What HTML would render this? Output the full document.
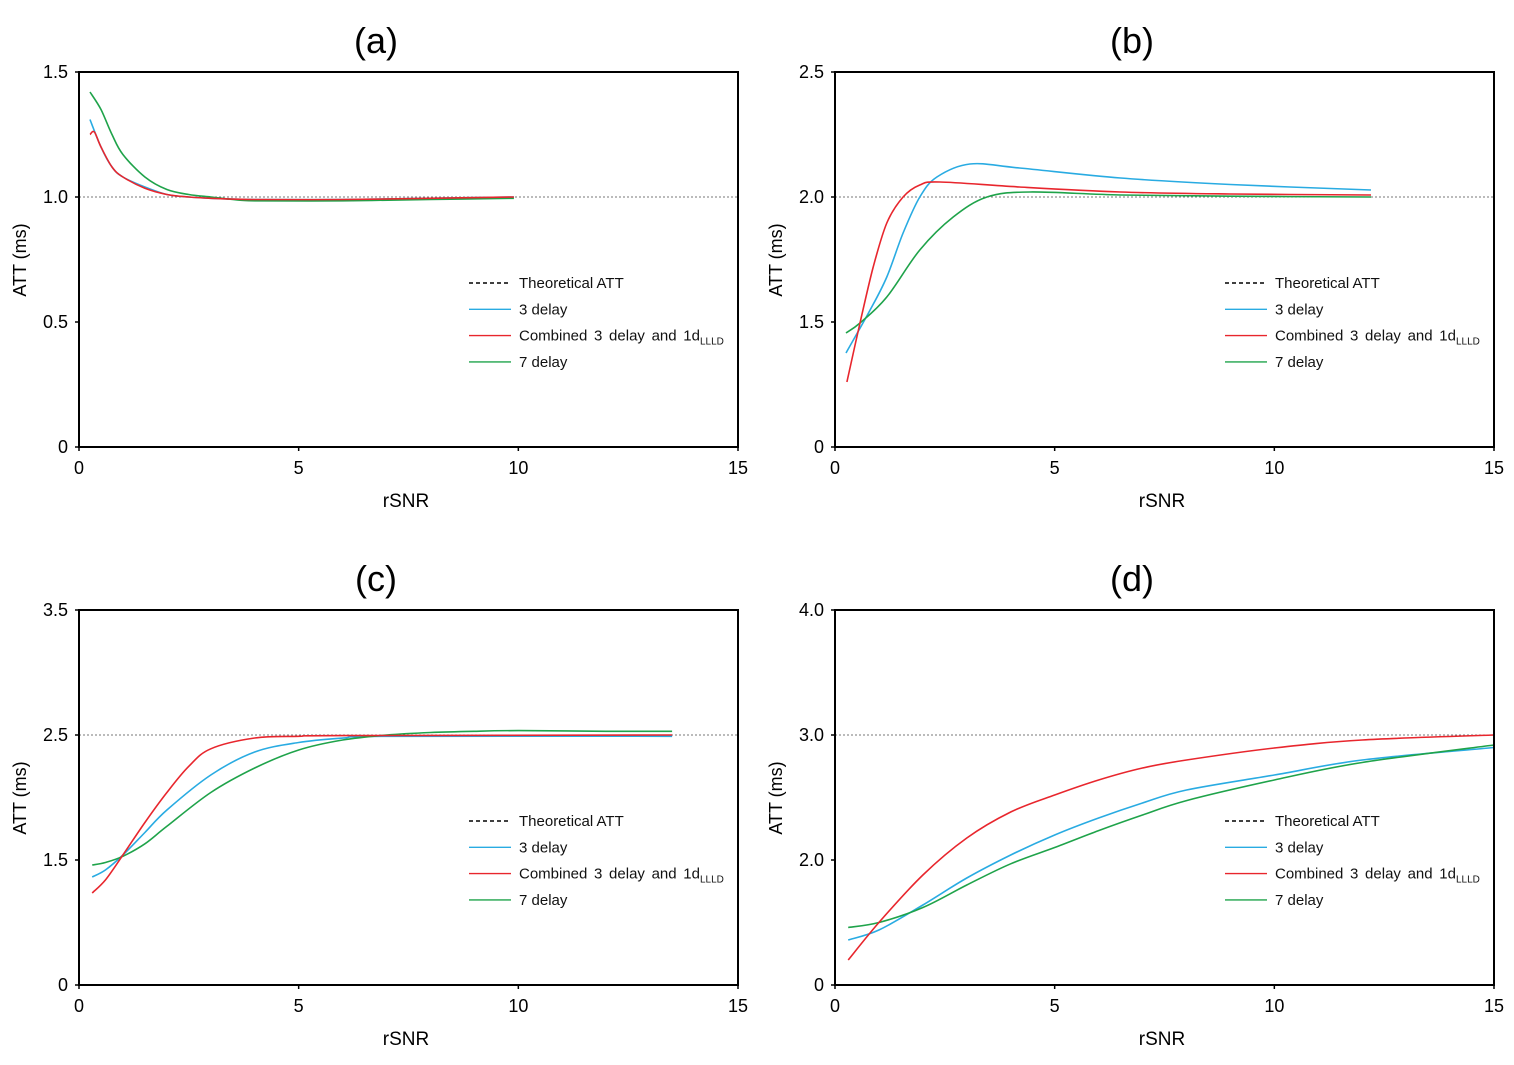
<!DOCTYPE html>
<html><head><meta charset="utf-8"><style>
html,body{margin:0;padding:0;background:#fff;}
svg{display:block;font-family:"Liberation Sans",Arial,sans-serif;}
</style></head><body>
<svg id="fig" width="1514" height="1065" viewBox="0 0 1514 1065" xmlns="http://www.w3.org/2000/svg"></svg>
<script>
// x tick labels shared by all panels
const xTicks = [0,5,10,15];
// Panel (a)
const aYTicks = [0,0.5,1.0,1.5];
const aYLabels = ["0","0.5","1.0","1.5"];
const aTheory = 1.0;
const aBlue = [[0.25,1.31],[0.5,1.2],[0.75,1.12],[1,1.08],[1.5,1.04],[2,1.01],[2.5,1.0],[3,0.995],[4,0.99],[6,0.99],[8,0.995],[9.9,1.0]];
const aRed = [[0.25,1.25],[0.35,1.26],[0.5,1.2],[0.75,1.12],[1,1.08],[1.5,1.035],[2,1.01],[2.5,1.0],[3,0.995],[4,0.99],[6,0.99],[8,0.995],[9.9,1.0]];
const aGreen = [[0.25,1.42],[0.5,1.35],[0.75,1.25],[1,1.17],[1.5,1.08],[2,1.03],[2.5,1.01],[3,1.0],[3.5,0.99],[4,0.985],[6,0.985],[8,0.99],[9.9,0.995]];
// Panel (b)
const bYTicks = [1.0,1.5,2.0,2.5];
const bYLabels = ["0","1.5","2.0","2.5"];
const bTheory = 2.0;
const bBlue = [[0.25,1.376],[0.8,1.548],[1.18,1.68],[1.55,1.856],[1.93,2.0],[2.32,2.08],[3.07,2.132],[4.2,2.116],[6.5,2.076],[9,2.05],[12.2,2.028]];
const bRed = [[0.27,1.26],[0.57,1.496],[0.87,1.72],[1.18,1.896],[1.55,2.0],[1.93,2.048],[2.39,2.06],[4.2,2.04],[6.5,2.02],[9,2.012],[12.2,2.008]];
const bGreen = [[0.25,1.456],[0.57,1.496],[1.18,1.6],[1.93,1.788],[2.69,1.92],[3.46,2.0],[4.44,2.02],[6.5,2.008],[9,2.003],[12.2,2.0]];
// Panel (c)
const cYTicks = [0.5,1.5,2.5,3.5];
const cYLabels = ["0","1.5","2.5","3.5"];
const cTheory = 2.5;
const cBlue = [[0.3,1.364],[0.6,1.42],[1,1.54],[1.5,1.72],[2,1.9],[3,2.18],[4,2.364],[5,2.44],[6,2.475],[7,2.49],[13.5,2.49]];
const cRed = [[0.3,1.236],[0.6,1.34],[1,1.54],[1.5,1.8],[2,2.04],[2.5,2.25],[3,2.39],[4,2.476],[5,2.49],[6,2.495],[13.5,2.5]];
const cGreen = [[0.3,1.46],[0.6,1.48],[1,1.53],[1.5,1.63],[2,1.77],[3,2.04],[4,2.236],[5,2.38],[6,2.46],[7,2.5],[8,2.52],[9,2.53],[10,2.535],[12,2.53],[13.5,2.53]];
// Panel (d)
const dYTicks = [1.0,2.0,3.0,4.0];
const dYLabels = ["0","2.0","3.0","4.0"];
const dTheory = 3.0;
const dBlue = [[0.3,1.36],[1,1.44],[2,1.64],[3,1.856],[4,2.04],[5,2.2],[6,2.336],[7,2.456],[8,2.56],[10,2.68],[12,2.8],[15,2.9]];
const dRed = [[0.3,1.2],[1,1.5],[2,1.88],[3,2.176],[4,2.384],[5,2.52],[6,2.64],[7,2.736],[8,2.8],[10,2.896],[12,2.96],[15,3.0]];
const dGreen = [[0.3,1.46],[1,1.5],[2,1.62],[3,1.8],[4,1.97],[5,2.1],[6,2.235],[7,2.36],[8,2.475],[10,2.64],[12,2.78],[15,2.92]];

const NS="http://www.w3.org/2000/svg";
const svg=document.getElementById('fig');
function mk(tag,attrs,parent){const e=document.createElementNS(NS,tag);for(const k in attrs)e.setAttribute(k,attrs[k]);(parent||svg).appendChild(e);return e;}
function smooth(pts){
  let d="M"+pts[0][0].toFixed(1)+","+pts[0][1].toFixed(1);
  for(let i=0;i<pts.length-1;i++){
    const p0=pts[Math.max(0,i-1)],p1=pts[i],p2=pts[i+1],p3=pts[Math.min(pts.length-1,i+2)];
    const c1x=p1[0]+(p2[0]-p0[0])/6,c1y=p1[1]+(p2[1]-p0[1])/6;
    const c2x=p2[0]-(p3[0]-p1[0])/6,c2y=p2[1]-(p3[1]-p1[1])/6;
    d+=" C"+c1x.toFixed(1)+","+c1y.toFixed(1)+" "+c2x.toFixed(1)+","+c2y.toFixed(1)+" "+p2[0].toFixed(1)+","+p2[1].toFixed(1);
  }
  return d;
}
function panel(id,title,x0,y0,yTicks,yLabels,theory,blue,red,green){
  const W=659,H=375,x1=x0+W,y1=y0+H;
  const yMin=yTicks[0],yMax=yTicks[yTicks.length-1];
  const sx=v=>x0+v/15*W;
  const sy=v=>y1-(v-yMin)/(yMax-yMin)*H;
  const g=mk('g',{});
  
  
  const t=mk('text',{x:x0+297,y:y0-19,'font-size':36,'text-anchor':'middle',fill:'#000'},g);
  t.textContent=title;
  
  
  const th=mk('line',{x1:x0,x2:x1,y1:sy(theory),y2:sy(theory),stroke:'#777','stroke-width':1,'stroke-dasharray':'2,2'},g);
  
  
  const series=[[blue,'#29abe2','3-delay'],[green,'#1fa34a','7-delay'],[red,'#e8262d','combined-3-delay-1d']];
  series.forEach(s=>{
    const p=mk('path',{d:smooth(s[0].map(q=>[sx(q[0]),sy(q[1])])),fill:'none',stroke:s[1],'stroke-width':1.6},g);
    
    
  });
  const box=mk('rect',{x:x0,y:y0,width:W,height:H,fill:'none',stroke:'#000','stroke-width':2},g);
  
  
  yTicks.forEach((v,i)=>{
    mk('line',{x1:x0-4,x2:x0,y1:sy(v),y2:sy(v),stroke:'#000','stroke-width':1.5},g);
    const l=mk('text',{x:x0-11,y:sy(v)+6,'font-size':18,'text-anchor':'end'},g);
    l.textContent=yLabels[i];
    
    
  });
  xTicks.forEach(v=>{
    mk('line',{x1:sx(v),x2:sx(v),y1:y1,y2:y1+4,stroke:'#000','stroke-width':1.5},g);
    const l=mk('text',{x:sx(v),y:y1+27,'font-size':18,'text-anchor':'middle'},g);
    l.textContent=String(v);
    
    
  });
  const xl=mk('text',{x:x0+327,y:y1+60,'font-size':19,'text-anchor':'middle'},g);
  xl.textContent='rSNR';
  
  
  const yl=mk('text',{x:0,y:0,'font-size':18,'text-anchor':'middle',transform:'translate('+(x0-53)+','+(y0+188)+') rotate(-90)'},g);
  yl.textContent='ATT (ms)';
  
  
  const lg=mk('g',{},g);
  
  
  const lx=x0+390,ly=y0+211;
  const items=[['#000','Theoretical ATT',true],['#29abe2','3 delay'],['#e8262d','Combined 3 delay and 1d'],['#1fa34a','7 delay']];
  items.forEach((it,i)=>{
    const yy=ly+i*26.3;
    const ln=mk('line',{x1:lx,x2:lx+42,y1:yy,y2:yy,stroke:it[0],'stroke-width':1.4},lg);
    if(it[2])ln.setAttribute('stroke-dasharray','4,3');
    const tx=mk('text',{x:lx+50,y:yy+5,'font-size':15,fill:'#111'},lg);
    tx.textContent=it[1];
    if(i===2){tx.setAttribute('word-spacing','2.5');const s=mk('tspan',{'font-size':10,dy:4},tx);s.textContent='LLLD';}
    
    
  });
}
panel('a','(a)',79,72,aYTicks,aYLabels,aTheory,aBlue,aRed,aGreen);
panel('b','(b)',835,72,bYTicks,bYLabels,bTheory,bBlue,bRed,bGreen);
panel('c','(c)',79,610,cYTicks,cYLabels,cTheory,cBlue,cRed,cGreen);
panel('d','(d)',835,610,dYTicks,dYLabels,dTheory,dBlue,dRed,dGreen);
</script>
</body></html>
